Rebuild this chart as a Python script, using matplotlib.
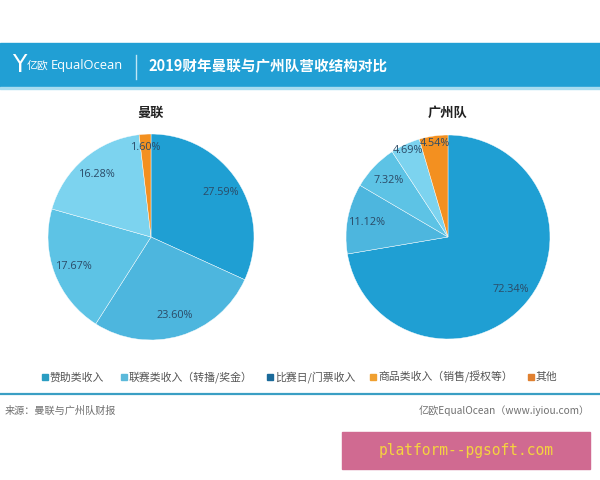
import matplotlib
matplotlib.use("Agg")
import matplotlib.pyplot as plt
from matplotlib.patches import Rectangle
import numpy as np

plt.rcParams['font.family'] = ['Noto Sans CJK SC', 'DejaVu Sans']

# ---- data ----
title = "2019财年曼联与广州队营收结构对比"
team_names = ["曼联", "广州队"]
manutd_values = [27.59, 23.60, 17.67, 16.28, 1.60]
guangzhou_values = [72.34, 11.12, 7.32, 4.69, 4.54]
legend_labels = ["赞助类收入", "联赛类收入（转播/奖金）", "比赛日/门票收入",
                 "商品类收入（销售/授权等）", "其他"]
source_text = "来源：曼联与广州队财报"
credit_text = "亿欧EqualOcean（www.iyiou.com）"
watermark_text = "platform--pgsoft.com"

# ---- styles ----
slice_colors = ["#1F9FD3", "#4DB6DE", "#5DC3E5", "#7CD3EF", "#F39020"]
legend_colors = ["#2A9DC2", "#5BB9DA", "#1A6A9A", "#F0A030", "#E08030"]
header_color = "#219FD4"
label_color = "#2B4A66"

W, H = 600, 480
fig = plt.figure(figsize=(6, 4.8), dpi=100)
fig.patch.set_facecolor("white")


def px(x, y):
    return x / W, 1 - y / H


# header bar
fig.patches.append(Rectangle(px(0, 87), 1, 44 / H, transform=fig.transFigure,
                             color=header_color, zorder=0))
fig.patches.append(Rectangle(px(0, 88.5), 1, 1.5 / H, transform=fig.transFigure,
                             color="#A8DCF0", zorder=0))
fig.text(*px(19, 65), "Y", color="white", fontsize=17, ha="center", va="center",
         family=["DejaVu Sans"])
fig.text(*px(27, 66), "亿欧", color="white", fontsize=7.8, ha="left", va="center")
fig.text(*px(51, 66), "EqualOcean", color="white", fontsize=9.3, ha="left",
         va="center", family=["Open Sans", "DejaVu Sans"])
fig.lines.append(plt.Line2D([136 / W, 136 / W], [1 - 55 / H, 1 - 79 / H],
                            transform=fig.transFigure, color="#BFE6F5", lw=1))
fig.text(*px(148, 66), title, color="white", fontsize=10.5, fontweight="bold",
         ha="left", va="center")


def draw_pie(cx, cy, r, values, name):
    ax = fig.add_axes([(cx - r) / W, 1 - (cy + r) / H, 2 * r / W, 2 * r / H])
    total = sum(values)
    wedges, texts, autotexts = ax.pie(
        values, colors=slice_colors, startangle=90, counterclock=False,
        autopct=lambda p: f"{p * total / 100:.2f}%", pctdistance=0.8,
        wedgeprops=dict(edgecolor="white", linewidth=0.3),
        textprops=dict(color=label_color, fontsize=7.8))
    for w, t, v in zip(wedges, autotexts, values):
        t.set_family(["Open Sans", "DejaVu Sans"])
        if v / total < 0.06:
            ang = np.deg2rad((w.theta1 + w.theta2) / 2)
            d = 0.93 if v / total > 0.03 else 0.87
            t.set_position((d * np.cos(ang), d * np.sin(ang)))
    ax.set_xlim(-1, 1)
    ax.set_ylim(-1, 1)
    ax.set_aspect("equal")
    ax.axis("off")
    fig.text(*px(cx, 113), name, fontsize=9.5, fontweight="bold", ha="center",
             va="center", color="#222222")


draw_pie(151, 237, 103, manutd_values, team_names[0])
draw_pie(448, 237, 102, guangzhou_values, team_names[1])

# legend
legend_x = [45, 124, 270, 373, 531]
for x, lab, col in zip(legend_x, legend_labels, legend_colors):
    fig.patches.append(Rectangle(px(x - 3, 380), 6 / W, 6 / H,
                                 transform=fig.transFigure, color=col))
    fig.text(*px(x + 5, 377), lab, fontsize=7.8, color="#555555", ha="left",
             va="center")

# divider line
fig.lines.append(plt.Line2D([0, 1], [1 - 394 / H, 1 - 394 / H],
                            transform=fig.transFigure, color="#3A9FC4", lw=1.6))

# footer
fig.text(*px(5, 411), source_text, fontsize=7.3, color="#707070", ha="left",
         va="center")
fig.text(*px(590, 411), credit_text, fontsize=7.3, color="#707070", ha="right",
         va="center")

# watermark box
fig.patches.append(Rectangle(px(342, 469), 248 / W, 37 / H,
                             transform=fig.transFigure, color="#D06A91"))
fig.text(*px(466, 451), watermark_text, fontsize=10.5, color="#F5D33F",
         ha="center", va="center", family=["DejaVu Sans Mono"])

fig.savefig("out.png", dpi=100, facecolor="white")
